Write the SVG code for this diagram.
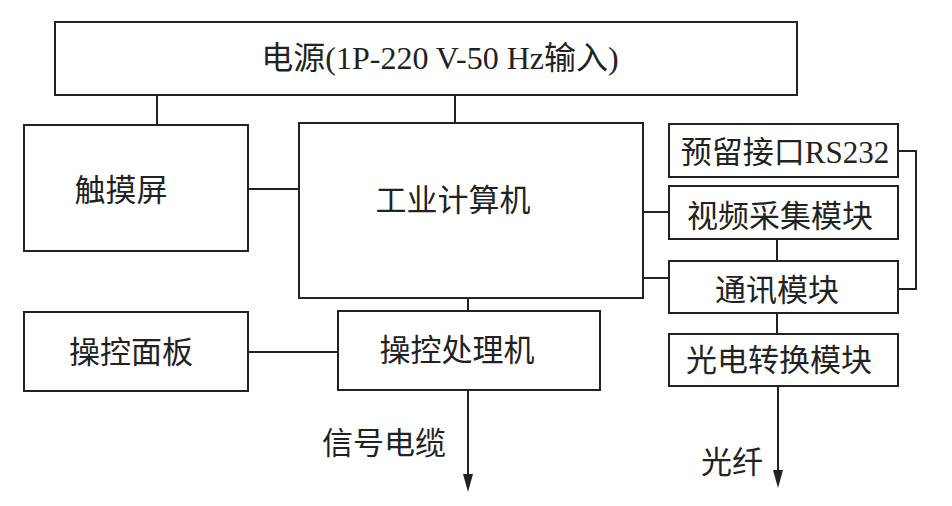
<svg xmlns="http://www.w3.org/2000/svg" width="952" height="506" viewBox="0 0 952 506">
<defs>
<style>
.box{fill:#fff;stroke:#222;stroke-width:2}
.ln{fill:none;stroke:#222;stroke-width:2}
.t{font-family:"Liberation Serif","Noto Sans CJK SC",serif;font-size:31px;fill:#222;text-anchor:middle;dominant-baseline:central}
.big{font-size:32px}
.head{fill:#222}
</style>
</defs>
<rect width="952" height="506" fill="#fff"/>
<g id="connectors">
<path class="ln" d="M157,95 V125"/>
<path class="ln" d="M455,95 V123"/>
<path class="ln" d="M248,189 H299"/>
<path class="ln" d="M643,212 H669"/>
<path class="ln" d="M643,278 H669"/>
<path class="ln" d="M777,239 V262"/>
<path class="ln" d="M898,151 H916 V289 H898"/>
<path class="ln" d="M777,313 V334"/>
<path class="ln" d="M468,298 V311"/>
<path class="ln" d="M248,352 H338"/>
<path class="ln" d="M468,390 V474"/>
<path class="head" d="M463,474 L473,474 L468,492 Z"/>
<path class="ln" d="M778,386 V470"/>
<path class="head" d="M773,470 L783,470 L778,488 Z"/>
</g>
<g id="power"><rect class="box" x="55" y="22" width="742" height="73"/><text class="t big" x="440" y="58">电源(1P-220 V-50 Hz输入)</text></g>
<g id="touch"><rect class="box" x="24" y="125" width="224" height="126"/><text class="t" x="121" y="190">触摸屏</text></g>
<g id="ipc"><rect class="box" x="299" y="123" width="344" height="175"/><text class="t" x="453" y="200">工业计算机</text></g>
<g id="panel"><rect class="box" x="24" y="312" width="224" height="79"/><text class="t" x="131" y="352">操控面板</text></g>
<g id="proc"><rect class="box" x="338" y="311" width="262" height="79"/><text class="t" x="457" y="350">操控处理机</text></g>
<g id="rs232"><rect class="box" x="669" y="124" width="229" height="53"/><text class="t" x="785" y="152">预留接口RS232</text></g>
<g id="video"><rect class="box" x="669" y="186" width="229" height="53"/><text class="t" x="780" y="216">视频采集模块</text></g>
<g id="comm"><rect class="box" x="669" y="261" width="229" height="52"/><text class="t" x="777" y="290">通讯模块</text></g>
<g id="oe"><rect class="box" x="669" y="334" width="229" height="52"/><text class="t" x="779" y="360">光电转换模块</text></g>
<g id="labels"><text class="t" x="384" y="443">信号电缆</text><text class="t" x="732" y="462">光纤</text></g>
</svg>
